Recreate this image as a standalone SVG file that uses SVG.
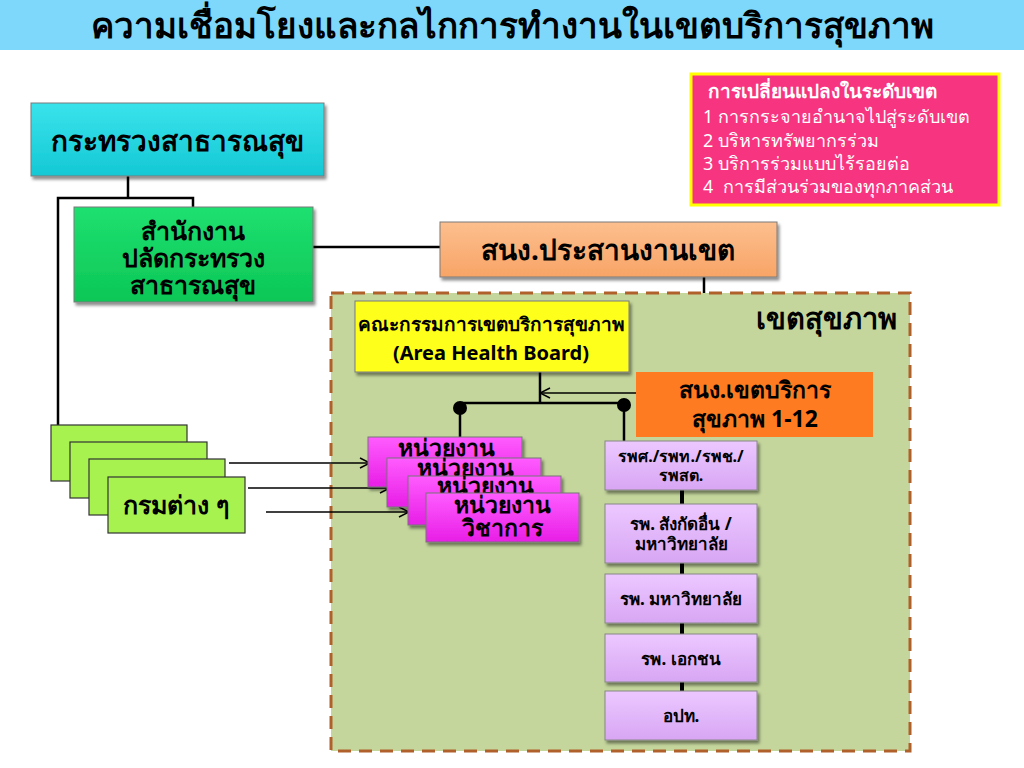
<svg xmlns="http://www.w3.org/2000/svg" width="1024" height="768" viewBox="0 0 1024 768">
<style>
.t{font-family:"Noto Sans","Liberation Sans",sans-serif;font-weight:bold;fill:#000;text-anchor:middle}
.w{font-family:"Noto Sans","Liberation Sans",sans-serif;fill:#fff}
.ln{stroke:#000;stroke-width:2.5;fill:none}
.ar{stroke:#000;stroke-width:1.5;fill:none}
.bx{stroke:#7a7a7a;stroke-width:1}
.gb{fill:#a8f250;stroke:#333;stroke-width:1.2}
.mb{fill:url(#gm);stroke:#777;stroke-width:1}
.lb{fill:url(#gl);stroke:#888;stroke-width:1}
</style>
<defs>
<filter id="sh" x="-10%" y="-10%" width="125%" height="130%">
<feDropShadow dx="2" dy="3" stdDeviation="1.5" flood-color="#000" flood-opacity="0.45"/>
</filter>
<linearGradient id="gc" x1="0" y1="0" x2="0" y2="1"><stop offset="0" stop-color="#3ae3ec"/><stop offset="1" stop-color="#14c8d4"/></linearGradient>
<linearGradient id="gg" x1="0" y1="0" x2="0" y2="1"><stop offset="0" stop-color="#1ee070"/><stop offset="1" stop-color="#0cc756"/></linearGradient>
<linearGradient id="go" x1="0" y1="0" x2="0" y2="1"><stop offset="0" stop-color="#fcbf8e"/><stop offset="1" stop-color="#f8a466"/></linearGradient>
<linearGradient id="gm" x1="0" y1="0" x2="0" y2="1"><stop offset="0" stop-color="#ff5cff"/><stop offset="1" stop-color="#e81ee6"/></linearGradient>
<linearGradient id="gl" x1="0" y1="0" x2="0" y2="1"><stop offset="0" stop-color="#ecc8ff"/><stop offset="1" stop-color="#d8a6f4"/></linearGradient>
<marker id="oa" viewBox="0 0 12 12" refX="11" refY="6" markerWidth="12" markerHeight="12" markerUnits="userSpaceOnUse" orient="auto">
<path d="M1,1 L11,6 L1,11" fill="none" stroke="#000" stroke-width="1.5"/>
</marker>
</defs>
<rect width="1024" height="768" fill="#fff"/>
<g id="title">
<rect x="0" y="0" width="1024" height="50" fill="#7dd8fb"/>
<text class="t" x="512" y="38" font-size="35">ความเชื่อมโยงและกลไกการทำงานในเขตบริการสุขภาพ</text>
</g>
<g id="region">
<rect x="331" y="293" width="579" height="458" fill="#c4d69c" stroke="#b0602a" stroke-width="3" stroke-dasharray="13,8"/>
<text class="t" x="897" y="329" font-size="29" style="text-anchor:end">เขตสุขภาพ</text>
</g>
<g id="connectors">
<polyline class="ln" points="128,176 128,198"/>
<polyline class="ln" points="58,425 58,198 193,198 193,207"/>
<line class="ln" x1="313" y1="247" x2="440" y2="247"/>
<line class="ln" x1="704" y1="277" x2="704" y2="293"/>
<line class="ln" x1="540" y1="372" x2="540" y2="403"/>
<line class="ar" x1="636" y1="393" x2="540" y2="393" marker-end="url(#oa)"/>
<line class="ln" x1="460" y1="403" x2="624" y2="403"/>
<circle cx="460" cy="408" r="7" fill="#000"/>
<circle cx="624" cy="405" r="7" fill="#000"/>
<line class="ln" x1="460" y1="408" x2="460" y2="437"/>
<line class="ln" x1="624" y1="405" x2="624" y2="441"/>
<line x1="682" y1="490" x2="682" y2="691" stroke="#000" stroke-width="4"/>
<line class="ar" x1="229" y1="463" x2="370" y2="463" marker-end="url(#oa)"/>
<line class="ar" x1="248" y1="488" x2="390" y2="488" marker-end="url(#oa)"/>
<line class="ar" x1="266" y1="512" x2="409" y2="512" marker-end="url(#oa)"/>
</g>
<g id="moph">
<rect x="31" y="103" width="293" height="73" fill="url(#gc)" class="bx" filter="url(#sh)"/>
<text class="t" x="177" y="151" font-size="28">กระทรวงสาธารณสุข</text>
</g>
<g id="ops">
<rect x="74" y="207" width="239" height="95" fill="url(#gg)" class="bx" filter="url(#sh)"/>
<text class="t" x="193" y="240" font-size="25">สำนักงาน</text>
<text class="t" x="193" y="267" font-size="25">ปลัดกระทรวง</text>
<text class="t" x="193" y="294" font-size="25">สาธารณสุข</text>
</g>
<g id="coord">
<rect x="440" y="222" width="337" height="55" fill="url(#go)" class="bx" filter="url(#sh)"/>
<text class="t" x="608" y="260" font-size="28">สนง.ประสานงานเขต</text>
</g>
<g id="changes">
<rect x="691" y="74" width="308" height="131" fill="#f7347f" stroke="#ffff00" stroke-width="3"/>
<text class="w" x="708" y="98" font-size="19" font-weight="bold">การเปลี่ยนแปลงในระดับเขต</text>
<text class="w" x="703" y="123" font-size="18">1 การกระจายอำนาจไปสู่ระดับเขต</text>
<text class="w" x="703" y="147" font-size="18">2 บริหารทรัพยากรร่วม</text>
<text class="w" x="703" y="170" font-size="18">3 บริการร่วมแบบไร้รอยต่อ</text>
<text class="w" x="703" y="193" font-size="18" xml:space="preserve">4  การมีส่วนร่วมของทุกภาคส่วน</text>
</g>
<g id="ahb">
<rect x="355" y="301" width="274" height="71" fill="#ffff1a" class="bx" filter="url(#sh)"/>
<text class="t" x="491" y="331" font-size="19">คณะกรรมการเขตบริการสุขภาพ</text>
<text class="t" x="491" y="360" font-size="20">(Area Health Board)</text>
</g>
<g id="rho">
<rect x="636" y="372" width="237" height="65" fill="#ff7b22"/>
<text class="t" x="755" y="398" font-size="23">สนง.เขตบริการ</text>
<text class="t" x="755" y="427" font-size="23">สุขภาพ 1-12</text>
</g>
<g id="departments">
<rect x="51" y="425" width="136" height="56" class="gb"/>
<rect x="70" y="442" width="137" height="56" class="gb"/>
<rect x="89" y="459" width="136" height="56" class="gb"/>
<rect x="108" y="477" width="137" height="56" class="gb"/>
<text class="t" x="176" y="514" font-size="25">กรมต่าง ๆ</text>
</g>
<g id="units">
<rect x="368" y="437" width="154" height="50" class="mb" filter="url(#sh)"/>
<text class="t" x="446" y="456" font-size="23">หน่วยงาน</text>
<rect x="387" y="458" width="154" height="49" class="mb" filter="url(#sh)"/>
<text class="t" x="465" y="476" font-size="23">หน่วยงาน</text>
<rect x="408" y="476" width="153" height="49" class="mb" filter="url(#sh)"/>
<text class="t" x="485" y="494" font-size="23">หน่วยงาน</text>
<rect x="426" y="493" width="153" height="49" class="mb" filter="url(#sh)"/>
<text class="t" x="502" y="513" font-size="23">หน่วยงาน</text>
<text class="t" x="502" y="536" font-size="23">วิชาการ</text>
</g>
<g id="h1">
<rect x="605" y="441" width="152" height="49" class="lb" filter="url(#sh)"/>
<text class="t" x="681" y="462" font-size="16">รพศ./รพท./รพช./</text>
<text class="t" x="681" y="481" font-size="16">รพสต.</text>
</g>
<g id="h2">
<rect x="605" y="504" width="152" height="59" class="lb" filter="url(#sh)"/>
<text class="t" x="681" y="530" font-size="17">รพ. สังกัดอื่น /</text>
<text class="t" x="681" y="550" font-size="17">มหาวิทยาลัย</text>
</g>
<g id="h3">
<rect x="605" y="574" width="152" height="49" class="lb" filter="url(#sh)"/>
<text class="t" x="681" y="605" font-size="17">รพ. มหาวิทยาลัย</text>
</g>
<g id="h4">
<rect x="605" y="634" width="152" height="48" class="lb" filter="url(#sh)"/>
<text class="t" x="681" y="665" font-size="17">รพ. เอกชน</text>
</g>
<g id="h5">
<rect x="605" y="691" width="152" height="49" class="lb" filter="url(#sh)"/>
<text class="t" x="681" y="722" font-size="17">อปท.</text>
</g>
</svg>
